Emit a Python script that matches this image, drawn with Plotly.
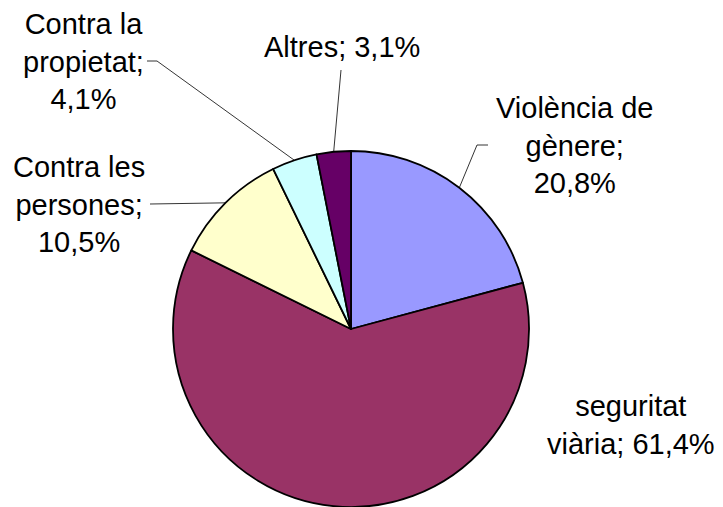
import math
import plotly.graph_objects as go

# ---- data ----
categories = ["Violència de<br>gènere", "seguritat<br>viària", "Contra les<br>persones",
              "Contra la<br>propietat", "Altres"]
values = [20.8, 61.4, 10.5, 4.1, 3.1]
colors = ["#9999FF", "#993366", "#FFFFCC", "#CCFFFF", "#660066"]

# ---- layout config (pixels) ----
W, H = 723, 507
CX, CY, R = 351, 329, 178
label_sep = [";<br>", "; ", ";<br>", ";<br>", "; "]
label_xy = [(574, 145), (631, 425), (79, 204), (83, 62), (342, 47)]
# leader: list of points beyond the slice edge (elbow, end) or None
leaders = [[(477, 145), (488, 145)], None, [(150, 204)], [(157, 61), (147, 61)], [(341, 70)]]
FS = 29

def px(x):
    return x / W

def py(y):
    return 1 - y / H

fig = go.Figure(go.Pie(
    labels=[c.replace("<br>", " ") for c in categories],
    values=values,
    sort=False,
    direction="clockwise",
    rotation=0,
    marker=dict(colors=colors, line=dict(color="black", width=1.8)),
    textinfo="none",
    hoverinfo="label+percent",
    showlegend=False,
    domain=dict(x=[px(CX - R), px(CX + R)], y=[py(CY + R), py(CY - R)]),
))

total = sum(values)
cum = 0
annotations = []
shapes = []
for i, (cat, v) in enumerate(zip(categories, values)):
    mid = (cum + v / 2) / total * 2 * math.pi
    cum += v
    ex, ey = CX + R * math.sin(mid), CY - R * math.cos(mid)
    txt = cat + label_sep[i] + f"{v:.1f}%".replace(".", ",")
    lx, ly = label_xy[i]
    annotations.append(dict(x=px(lx), y=py(ly), xref="paper", yref="paper", text=txt,
                            showarrow=False, xanchor="center", yanchor="middle", align="center",
                            font=dict(family="Liberation Sans, Arial", size=FS, color="black")))
    if leaders[i]:
        pts = [(ex, ey)] + leaders[i]
        path = "M " + " L ".join(f"{px(a)},{py(b)}" for a, b in pts)
        shapes.append(dict(type="path", xref="paper", yref="paper", path=path,
                           line=dict(color="black", width=0.8)))

fig.update_layout(width=W, height=H, margin=dict(l=0, r=0, t=0, b=0),
                  paper_bgcolor="white", plot_bgcolor="white",
                  annotations=annotations, shapes=shapes)
fig.write_html("out.html", config={"displayModeBar": False},
               post_script="document.body.style.margin='0px';")
